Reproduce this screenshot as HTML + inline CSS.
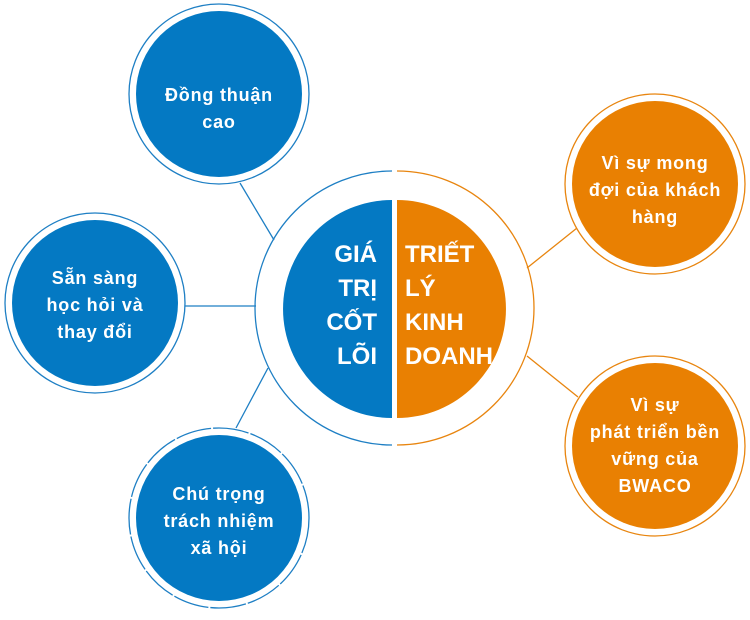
<!DOCTYPE html>
<html><head><meta charset="utf-8"><style>
html,body{margin:0;padding:0;background:#fff;}
svg{display:block;}
text{font-family:"Liberation Sans",sans-serif;font-weight:bold;fill:#fff;}
.s{letter-spacing:0.8px;}
</style></head><body>
<svg width="750" height="620" viewBox="0 0 750 620" xmlns="http://www.w3.org/2000/svg">
<g stroke-width="1.3" fill="none">
<line x1="240" y1="183" x2="274" y2="240" stroke="#1e7fc4"/>
<line x1="185" y1="306" x2="256" y2="306" stroke="#1e7fc4"/>
<line x1="268" y1="368" x2="236" y2="428" stroke="#1e7fc4"/>
<line x1="577" y1="228" x2="527" y2="268" stroke="#e8850f"/>
<line x1="527" y1="356" x2="578" y2="397" stroke="#e8850f"/>
</g>
<path d="M392,171 A137,137 0 0 0 392,445" fill="none" stroke="#1e7fc4" stroke-width="1.3"/>
<path d="M397,171 A137,137 0 0 1 397,445" fill="none" stroke="#e8850f" stroke-width="1.3"/>
<path d="M392,200 A109,109 0 0 0 392,418 Z" fill="#0479c3"/>
<path d="M397,200 A109,109 0 0 1 397,418 Z" fill="#e98002"/>
<g font-size="24" text-anchor="end">
<text x="377" y="262">GIÁ</text>
<text x="377" y="296">TRỊ</text>
<text x="377" y="330">CỐT</text>
<text x="377" y="364">LÕI</text>
</g>
<g font-size="24" text-anchor="start">
<text x="405" y="262">TRIẾT</text>
<text x="405" y="296">LÝ</text>
<text x="405" y="330">KINH</text>
<text x="405" y="364">DOANH</text>
</g>
<circle cx="219" cy="94" r="90" fill="none" stroke="#1e7fc4" stroke-width="1.3"/>
<circle cx="219" cy="94" r="83" fill="#0479c3"/>
<circle cx="95" cy="303" r="90" fill="none" stroke="#1e7fc4" stroke-width="1.3"/>
<circle cx="95" cy="303" r="83" fill="#0479c3"/>
<circle cx="219" cy="518" r="90" fill="none" stroke="#1e7fc4" stroke-width="1.3" stroke-dasharray="36 2"/>
<circle cx="219" cy="518" r="83" fill="#0479c3"/>
<g font-size="18" text-anchor="middle" class="s">
<text x="219" y="101">Đồng thuận</text>
<text x="219" y="128">cao</text>
<text x="95" y="284">Sẵn sàng</text>
<text x="95" y="311">học hỏi và</text>
<text x="95" y="338">thay đổi</text>
<text x="219" y="500">Chú trọng</text>
<text x="219" y="527">trách nhiệm</text>
<text x="219" y="554">xã hội</text>
</g>
<circle cx="655" cy="184" r="90" fill="none" stroke="#e8850f" stroke-width="1.3"/>
<circle cx="655" cy="184" r="83" fill="#e98002"/>
<circle cx="655" cy="446" r="90" fill="none" stroke="#e8850f" stroke-width="1.3"/>
<circle cx="655" cy="446" r="83" fill="#e98002"/>
<g font-size="18" text-anchor="middle" class="s">
<text x="655" y="169">Vì sự mong</text>
<text x="655" y="196">đợi của khách</text>
<text x="655" y="223">hàng</text>
<text x="655" y="411">Vì sự</text>
<text x="655" y="438">phát triển bền</text>
<text x="655" y="465">vững của</text>
<text x="655" y="492">BWACO</text>
</g>
</svg>
</body></html>
